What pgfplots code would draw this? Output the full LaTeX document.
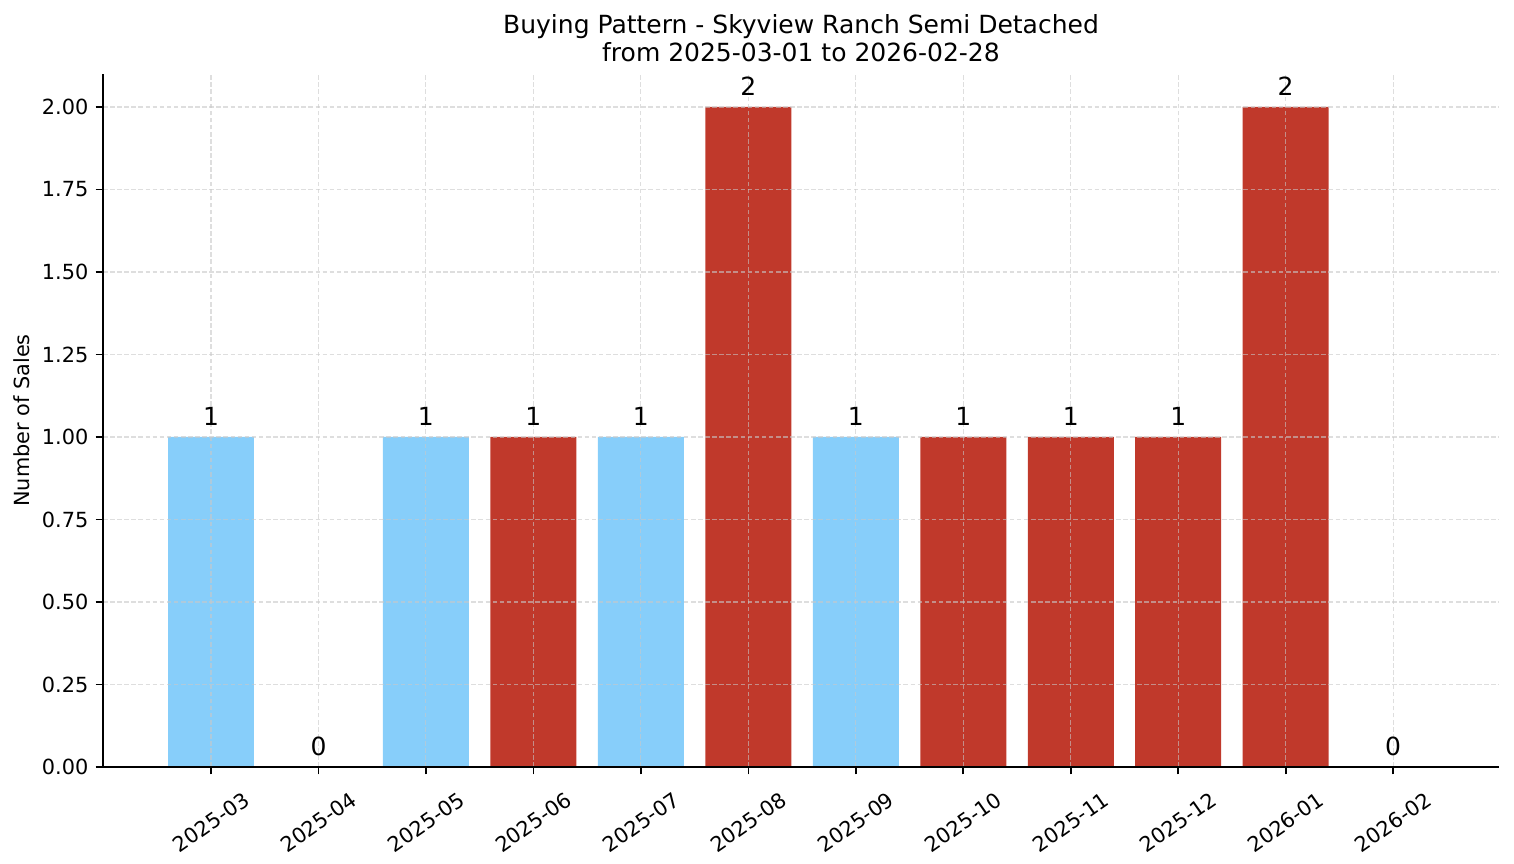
\documentclass[border=0pt]{standalone}
\usepackage{fontspec}
\setmainfont{DejaVu Sans}
\usepackage{pgfplots}
\pgfplotsset{compat=1.18}

\definecolor{barblue}{HTML}{87CEFA}
\definecolor{barred}{HTML}{C0392B}
\definecolor{gridgray}{HTML}{C8C8C8}

\begin{document}
\begin{tikzpicture}
\useasboundingbox (-49.44pt,-46.08pt) rectangle (677.28pt,368.16pt);
\begin{axis}[
    at={(0,0)}, anchor=south west,
    scale only axis,
    width=670.08pt, height=332.64pt,
    ybar, bar width=0.8,
    xmin=-1.005, xmax=11.985,
    ymin=0, ymax=2.1,
    axis x line*=bottom, axis y line*=left,
    axis on top,
    tick align=outside,
    major tick length=3.5pt,
    tick style={black, line width=0.8pt},
    axis line style={black, line width=0.8pt},
    xtick={0,...,11},
    xticklabels={2025-03,2025-04,2025-05,2025-06,2025-07,2025-08,2025-09,2025-10,2025-11,2025-12,2026-01,2026-02},
    xticklabel style={yshift=-23pt, rotate=35, anchor=center, font=\fontsize{10}{12}\selectfont},
    ytick={0,0.25,...,2.0},
    yticklabel style={font=\fontsize{10}{12}\selectfont, /pgf/number format/fixed, /pgf/number format/fixed zerofill, /pgf/number format/precision=2},
    /pgf/number format/assume math mode=true,
    ymajorgrids, xmajorgrids,
    major grid style={gridgray, opacity=0.6, line width=0.5pt, dash pattern=on 2.2pt off 1.2pt},
    ylabel={Number of Sales},
    ylabel style={at={(axis description cs:-0.058,0.5)}, anchor=center, font=\fontsize{10}{12}\selectfont},
    title={Buying Pattern - Skyview Ranch Semi Detached\\from 2025-03-01 to 2026-02-28},
    title style={at={(axis description cs:0.5,1)}, anchor=south, yshift=-0.4pt, inner sep=0pt, align=center, font=\fontsize{12}{13.6}\selectfont},
    nodes near coords,
    nodes near coords style={anchor=base, inner sep=0pt, yshift=5.3pt, black, font=\fontsize{12}{14}\selectfont, /pgf/number format/fixed, /pgf/number format/precision=0},
]
\addplot[fill=barblue, draw=none, bar shift=0pt] coordinates {
    (0,1) (2,1) (4,1) (6,1)
};
\addplot[fill=barred, draw=none, bar shift=0pt] coordinates {
    (3,1) (5,2) (7,1) (8,1) (9,1) (10,2)
};
\addplot[fill=none, draw=none, bar shift=0pt] coordinates {
    (1,0) (11,0)
};
\end{axis}
\end{tikzpicture}
\end{document}
